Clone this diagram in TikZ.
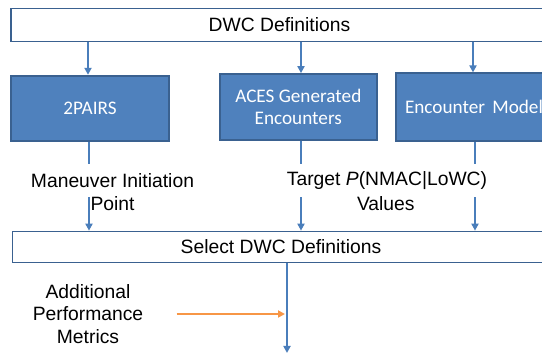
\documentclass[tikz,border=0pt]{standalone}
\usepackage{fontspec}
\setmainfont{Liberation Sans}
\newfontfamily\calib{Carlito}
\usetikzlibrary{arrows.meta}
\definecolor{boxblue}{HTML}{4F81BD}
\definecolor{boxedge}{HTML}{3A6190}
\definecolor{linkblue}{HTML}{4A7EBB}
\definecolor{orangeln}{HTML}{F79646}
\tikzset{
  whitebox/.style={draw=boxedge, line width=1.2pt, fill=white, inner sep=0pt,
    font=\fontsize{19.3}{22.6}\selectfont},
  bluebox/.style={draw=boxedge, line width=1.8pt, fill=boxblue, text=white, inner sep=0pt,
    align=center, font=\calib\fontsize{19.2}{21.6}\selectfont},
  lbl/.style={inner sep=0pt, align=center, font=\fontsize{19.3}{22.6}\selectfont},
  lblfill/.style={lbl, fill=white, minimum height=33pt, inner xsep=2pt},
  arr/.style={draw=linkblue, line width=2pt, -{Triangle[length=7pt,width=7pt]}},
  oarr/.style={draw=orangeln, line width=2pt, -{Triangle[length=7pt,width=7pt]}}
}
\begin{document}
\begin{tikzpicture}[x=1pt,y=-1pt]
\useasboundingbox (0,0) rectangle (542,358);
\clip (0,0) rectangle (542,358);
\fill[white] (0,0) rectangle (542,358);
% boxes
\node[whitebox, minimum width=537pt, minimum height=33pt] (dwc) at (279.5,24.8) {DWC Definitions};
\node[bluebox, minimum width=157.7pt, minimum height=65.6pt] (pairs) at (90,108.5) {2PAIRS};
\node[bluebox, minimum width=156.7pt, minimum height=65.7pt] (aces) at (298.3,106.9) {ACES Generated\\Encounters};
\node[bluebox, minimum width=156pt, minimum height=67.7pt] (enc) at (474,107.2) {Encounter\hspace{3pt} Model};
\node[whitebox, minimum width=537.4pt, minimum height=31.5pt] (sel) at (281,247) {Select DWC Definitions};
% arrows from top box
\draw[arr] ([xshift=-2pt]pairs.north |- dwc.south) -- ([xshift=-2pt]pairs.north);
\draw[arr] ([xshift=2.7pt]aces.north |- dwc.south) -- ([xshift=2.7pt]aces.north);
\draw[arr] ([xshift=-1pt]enc.north |- dwc.south) -- ([xshift=-1pt]enc.north);
% arrows down to select box
\draw[arr] ([xshift=-1pt]pairs.south) -- ([xshift=-1pt]pairs.south |- sel.north);
\draw[arr] ([xshift=2.7pt]aces.south) -- ([xshift=2.7pt]aces.south |- sel.north);
\draw[arr] ([xshift=1pt]enc.south) -- ([xshift=1pt]enc.south |- sel.north);
% labels
\node[lblfill] (man1) at (112.5,181) {Maneuver Initiation};
\node[lbl] (man2) at (112.5,203.5) {Point};
\node[lblfill] (tgt1) at (387,181) {Target \textit{P}(NMAC|LoWC)};
\node[lbl] (tgt2) at (385.8,203.5) {Values};
% output
\coordinate (out) at (287,353);
\draw[arr] ([xshift=6pt]sel.south) -- (out);
\node[lbl] (apm) at (88,314) {Additional\\Performance\\Metrics};
\coordinate (ostart) at (176.5,314);
\coordinate (oend) at (285,314);
\draw[oarr] (ostart) -- (oend);
\end{tikzpicture}
\end{document}
